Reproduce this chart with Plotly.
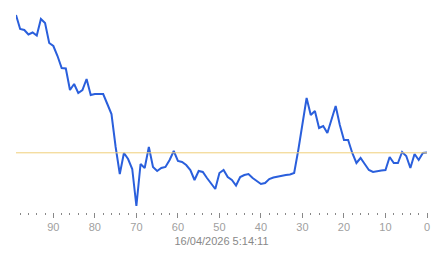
import plotly.graph_objects as go

# x positions (minutes ago), from 99 down to 0
minutes = list(range(99, -1, -1))
values = [
    197, 183, 182, 177.5, 179.5, 176.5, 193, 189, 169, 166,   # 99-90
    156, 144, 143.5, 122, 128, 119, 122, 133, 117, 118,       # 89-80
    118, 118, 108, 98, 65, 38, 59, 53, 43, 6,                 # 79-70
    48, 44, 65, 45, 41, 44, 45, 52, 61, 51,                   # 69-60
    50, 47, 42, 32, 41, 40, 34, 28, 23, 39,                   # 59-50
    42, 35, 32, 26.5, 35, 37, 38, 34, 31, 28,                 # 49-40
    29, 33, 34.5, 35.5, 36, 37, 37.5, 39, 62, 90,             # 39-30
    114, 97, 101, 84, 86, 79, 93, 106, 87, 72,                # 29-20
    72, 59, 49, 54, 48, 42, 40, 41, 41.5, 42,                 # 19-10
    55, 49, 49, 60, 56, 44, 58, 52, 59, 59.5,                 # 9-0
]
reference_level = 59.2
timestamp = "16/04/2026 5:14:11"

fig = go.Figure()
fig.add_trace(go.Scatter(
    x=minutes, y=values, mode="lines",
    line=dict(color="#2a5fdc", width=2),
    hoverinfo="skip", showlegend=False,
))
fig.add_trace(go.Scatter(
    x=[minutes[0], minutes[-1]], y=[reference_level, reference_level], mode="lines",
    line=dict(color="#f0cf7a", width=1),
    hoverinfo="skip", showlegend=False,
))

fig.update_layout(
    width=443, height=258,
    margin=dict(l=16, r=16, t=2, b=46),
    paper_bgcolor="white", plot_bgcolor="white",
    font=dict(family="Liberation Sans, Arial, sans-serif", size=11, color="#999999"),
    xaxis=dict(
        range=[99, 0], showgrid=False, zeroline=False, showline=False,
        ticks="outside", ticklen=5, tickwidth=1, tickcolor="#888888",
        dtick=10, tick0=0,
        tickfont=dict(size=11, color="#a0a0a0"),
        minor=dict(ticks="outside", ticklen=2, tickwidth=1, tickcolor="#888888", dtick=2, tick0=0, showgrid=False),
        title=dict(text=timestamp, font=dict(size=11, color="#888888"), standoff=5),
    ),
    yaxis=dict(range=[0, 210], visible=False, showgrid=False, zeroline=False),
)

fig.write_html("out.html")
